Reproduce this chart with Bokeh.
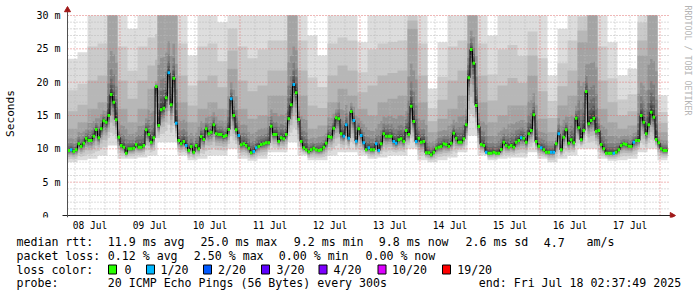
import numpy as np
from math import pi
from bokeh.plotting import figure
from bokeh.layouts import column
from bokeh.models import FixedTicker, Range1d
from bokeh.core.properties import value
from bokeh.embed import file_html
from bokeh.resources import INLINE

# ---------------- data ----------------
# hourly median RTT in ms, first point = Jul 8 03:00
median_ms = [
    9.75, 9.85, 9.6, 9.85, 10.75, 10.35, 10.85, 11.6, 11.25, 11.25,
    11.9, 12.9, 11.65, 13.0, 14.2, 14.0, 15.0, 18.15, 17.0, 14.35,
    11.75, 10.5, 10.25, 9.35, 10.0, 10.0, 10.1, 10.65, 10.25, 10.25,
    10.5, 12.85, 12.15, 11.0, 11.65, 19.35, 13.5, 15.85, 16.1, 17.65,
    21.4, 16.6, 20.6, 13.85, 11.25, 10.75, 11.1, 10.5, 9.75, 10.35,
    9.5, 10.5, 10.0, 11.85, 11.4, 13.0, 12.25, 12.5, 13.6, 12.25,
    12.15, 12.15, 11.85, 12.0, 12.9, 17.5, 15.0, 12.85, 12.0, 10.6,
    10.75, 10.5, 10.1, 9.4, 9.6, 10.15, 10.35, 10.65, 10.75, 10.9,
    10.9, 13.4, 12.15, 12.15, 11.1, 11.65, 11.5, 12.15, 14.5, 16.6,
    19.65, 18.4, 14.4, 11.1, 10.15, 9.85, 9.55, 9.85, 10.1, 9.85,
    9.75, 9.85, 10.25, 10.85, 11.85, 11.75, 13.1, 14.65, 14.5, 12.25,
    11.9, 13.6, 11.6, 15.6, 14.25, 11.15, 13.0, 12.0, 10.9, 9.85,
    10.15, 9.85, 9.85, 10.75, 9.75, 10.75, 12.25, 11.9, 11.9, 11.9,
    11.1, 10.85, 11.35, 11.5, 11.1, 12.75, 12.15, 16.4, 14.1, 11.1,
    11.6, 11.0, 11.1, 9.4, 9.4, 9.1, 9.5, 10.1, 10.25, 10.35,
    10.75, 10.65, 10.35, 10.85, 12.35, 11.6, 11.0, 11.0, 11.5, 13.6,
    20.65, 24.9, 22.85, 16.5, 13.35, 10.65, 10.5, 9.5, 9.35, 9.35,
    9.5, 9.35, 9.35, 9.9, 11.0, 10.5, 10.25, 10.5, 10.25, 11.0,
    11.25, 11.65, 11.6, 11.0, 12.25, 12.75, 15.1, 11.1, 10.4, 10.15,
    9.85, 9.5, 9.5, 9.5, 9.5, 10.75, 12.25, 9.85, 11.75, 12.85,
    10.85, 11.35, 10.9, 14.6, 13.15, 11.35, 12.75, 18.6, 13.75, 14.25,
    14.6, 12.65, 12.75, 10.65, 10.0, 9.35, 9.35, 9.35, 9.35, 9.5,
    9.85, 10.5, 10.75, 10.65, 10.4, 10.35, 11.0, 11.25, 11.25, 15.0,
    14.0, 12.25, 13.6, 15.5, 14.75, 11.4, 10.9, 10.0, 9.75, 9.75,
]
# hour indices whose median is drawn in the "1/20" loss colour
loss_1_of_20_hours = [1, 40, 43, 47, 65, 68, 74, 75, 90, 110, 111, 112, 114, 115,
                      117, 118, 120, 123, 124, 130, 131, 139, 167, 181, 189, 193,
                      194, 196, 218, 226]
# smoke extents per 4-hour block (ms): highest ping, top of mid-grey, lowest ping
smoke_hi_ms = [23.5, 24.5, 33, 33, 33, 33, 28, 33, 33, 33, 33, 33,
               24, 33, 33, 29, 33, 33, 31, 33, 33, 33, 33, 33,
               27, 24, 33, 33, 33, 26, 33, 33, 33, 33, 33, 33,
               19, 26, 33, 33, 33, 33, 27, 33, 33, 30, 33, 31,
               21, 28, 33, 33, 33, 33, 26, 21, 22, 33, 33, 18]
smoke_q_ms = [13, 14, 16, 17, 30, 16, 14, 16, 19, 30, 30, 17,
              14, 16, 17, 16, 22, 16, 14.5, 15, 18, 18, 30, 18,
              13, 13.5, 17, 19, 18, 16, 15, 17, 17.5, 18, 28, 17,
              12.5, 14.5, 16, 18, 30, 17, 14, 15, 16.5, 16.5, 21, 14.5,
              12.5, 16.5, 18, 26, 30, 16, 14, 13, 13.5, 24, 30, 12.5]
smoke_lo_ms = [8, 8.3, 8.5, 9, 10.5, 8.5, 8.5, 8.7, 9, 11, 11, 9,
               8.3, 8.5, 9, 9, 10, 8.5, 8.2, 8.5, 9.5, 9.5, 11, 9,
               8.3, 8.3, 9, 9.5, 9.5, 9, 8.5, 8.7, 9, 9, 10, 8.3,
               8, 8.3, 8.7, 9.5, 12, 9, 8.3, 8.5, 8.7, 8.7, 9.5, 8.5,
               8, 8.5, 9, 10, 10, 8.5, 8.2, 8.3, 8.5, 9.5, 10, 8.3]

day_labels = ["08 Jul", "09 Jul", "10 Jul", "11 Jul", "12 Jul",
              "13 Jul", "14 Jul", "15 Jul", "16 Jul", "17 Jul"]
y_ticks = [0, 5, 10, 15, 20, 25, 30]
y_tick_labels = ["0", "5 m", "10 m", "15 m", "20 m", "25 m", "30 m"]
loss_classes = ["0", "1/20", "2/20", "3/20", "4/20", "10/20", "19/20"]
loss_colors = ["#26ff00", "#00b8ff", "#0059ff", "#5e00ff", "#7e00ff", "#dd00ff", "#ff0000"]

stats_rtt = ["11.9 ms avg", "25.0 ms max", "9.2 ms min", "9.8 ms now", "2.6 ms sd", "4.7", "am/s"]
stats_loss = ["0.12 % avg", "2.50 % max", "0.00 % min", "0.00 % now"]
probe_text = "20 ICMP Echo Pings (56 Bytes) every 300s"
end_text = "end: Fri Jul 18 02:37:49 2025"

# ---------------- geometry (pixels) ----------------
START_H = 3.0          # hours after Jul 8 00:00 at the left edge of the graph
n = len(median_ms)
W, H = 697, 297
GL, GR, GT, GB = 67, 667, 15, 215      # graph area
FB = 217                               # bottom of the bokeh frame (x labels below it)
MAIN_H = 234
YMAX = 30.0
PX_H = (GR - GL) / n                   # pixels per hour
PX_MS = (GB - GT) / YMAX               # pixels per ms


def dx(px):
    return START_H + (px - GL) / PX_H


def dy(py):
    return (GB - py) / PX_MS


FONT = "DejaVu Sans Mono"

p = figure(width=W, height=MAIN_H, x_range=Range1d(dx(0), dx(W)),
           y_range=Range1d(dy(FB), dy(0)), output_backend="svg", toolbar_location=None,
           min_border_left=0, min_border_right=0, min_border_top=0,
           min_border_bottom=MAIN_H - FB, y_axis_location=None)
p.outline_line_color = None
p.background_fill_color = "white"
p.border_fill_color = "white"
p.xgrid.visible = False
p.ygrid.visible = False

x = START_H + np.arange(n)
x_edges = np.append(x, x[-1] + 1)
med = np.array(median_ms, dtype=float)

hi = np.repeat(np.array(smoke_hi_ms, dtype=float), 4)[:n]
q = np.repeat(np.array(smoke_q_ms, dtype=float), 4)[:n]
lo = np.repeat(np.array(smoke_lo_ms, dtype=float), 4)[:n]
q = np.maximum(q, med + 0.8)
hi = np.maximum(hi, q)
lo = np.minimum(lo, med - 0.5)

below_frac = [1.0, .75, .55, .40, .30, .22, .15, .10, .06, .03]
above_frac = [.03, .07, .12, .20, .32, .55]
lower = [med - f * (med - lo) for f in below_frac]                      # ping 1..10
upper = ([med + f * (q - med) for f in above_frac] +
         [q, q + 0.25 * (hi - q), q + 0.55 * (hi - q), hi])            # ping 11..20

for k in range(10):          # k=0 outermost band (lightest)
    g = int(190 / 10 * (10 - (k + 1))) + 50
    col = "#%02x%02x%02x" % (g, g, g)
    y1 = np.minimum(lower[k], YMAX)
    y2 = np.minimum(upper[9 - k], YMAX)
    p.varea_step(x=x_edges, y1=np.append(y1, y1[-1]), y2=np.append(y2, y2[-1]),
                 step_mode="after", fill_color=col)

# grid (dotted, drawn over the smoke, confined to the graph area)
hours_grid = [h for h in range(6, 246, 6) if START_H < h < START_H + n]
minor_v = [h for h in hours_grid if h % 24]
major_v = [h for h in hours_grid if h % 24 == 0]
minor_h = [v for v in range(1, 30) if v % 5]
major_h = [v for v in y_ticks if v > 0]
x_end = START_H + n + 0.4
p.segment(x0=minor_v, y0=0, x1=minor_v, y1=YMAX, line_color="#b8b8b8",
          line_dash="1 2", line_width=1)
p.segment(x0=START_H, y0=minor_h, x1=x_end, y1=minor_h, line_color="#b8b8b8",
          line_dash="1 2", line_width=1)
p.segment(x0=major_v, y0=0, x1=major_v, y1=YMAX, line_color="#e07070",
          line_dash="1 2", line_width=1)
p.segment(x0=START_H, y0=major_h, x1=x_end, y1=major_h, line_color="#e07070",
          line_dash="1 2", line_width=1)

# median: thin black step line + loss-coloured marks
p.step(x_edges, np.append(med, med[-1]), mode="after", line_color="black", line_width=1)
mcol = [loss_colors[1] if i in loss_1_of_20_hours else loss_colors[0] for i in range(n)]
p.segment(x0=x, y0=med, x1=x + 1, y1=med, line_color=mcol, line_width=3, line_cap="butt")

# axis lines with arrow heads
head_c = "#a01818"
p.segment(x0=dx(62), y0=0, x1=dx(670), y1=0, line_color="#202020", line_width=1)
p.segment(x0=START_H, y0=dy(217), x1=START_H, y1=dy(11), line_color="#505050", line_width=1)
p.scatter(x=[dx(671.5)], y=[0], marker="triangle", angle=-pi / 2, size=6,
          fill_color=head_c, line_color=head_c)
p.scatter(x=[START_H], y=[dy(9.5)], marker="triangle", size=6,
          fill_color=head_c, line_color=head_c)

# y tick labels (unit-less "0" sits two columns further left), axis title, watermark
lab_x = [dx(60) if " " in s else dx(48) for s in y_tick_labels]
p.text(x=lab_x, y=y_ticks, text=y_tick_labels, text_font=value(FONT),
       text_font_size=value("10px"), text_color="black", text_align="right",
       text_baseline="middle")
p.text(x=[dx(10)], y=[dy(113)], text=["Seconds"], text_font=value(FONT),
       text_font_size=value("11.1px"), text_color="black", angle=pi / 2,
       text_align="center", text_baseline="middle")
p.text(x=[dx(687)], y=[dy(60)], text=["RRDTOOL / TOBI OETIKER"], text_font=value(FONT),
       text_font_size=value("8.3px"), text_color="#b4b4b4", angle=-pi / 2,
       text_align="center", text_baseline="middle")

# x axis (day labels at noon)
p.xaxis.ticker = FixedTicker(ticks=[12 + 24 * k for k in range(len(day_labels))])
p.xaxis.major_label_overrides = {12 + 24 * k: lab for k, lab in enumerate(day_labels)}
p.xaxis.major_tick_out = 0
p.xaxis.major_tick_in = 0
p.xaxis.major_tick_line_color = None
p.xaxis.minor_tick_line_color = None
p.xaxis.axis_line_color = None
p.xaxis.major_label_standoff = 2
p.xaxis.major_label_text_font = FONT
p.xaxis.major_label_text_font_size = "9.6px"
p.xaxis.major_label_text_color = "black"

# ---------------- legend block below ----------------
LEG_H = H - MAIN_H
lg = figure(width=W, height=LEG_H, x_range=Range1d(0, W), y_range=Range1d(LEG_H, 0),
            output_backend="svg", toolbar_location=None, min_border=0,
            x_axis_location=None, y_axis_location=None)
lg.outline_line_color = None
lg.grid.visible = False
lg.background_fill_color = "white"
lg.border_fill_color = "white"

ROW = [241.7 - MAIN_H, 255.3 - MAIN_H, 269.0 - MAIN_H, 282.6 - MAIN_H]
tx, ty, tt = [], [], []


def put(px, row, s):
    tx.append(px)
    ty.append(ROW[row])
    tt.append(s)


put(16, 0, "median rtt:")
for s, px in zip(stats_rtt, [107.3, 200, 293.3, 378.3, 465, 543.3, 586]):
    put(px, 0, s)
put(16, 1, "packet loss:")
for s, px in zip(stats_loss, [107.3, 193.3, 278.3, 365]):
    put(px, 1, s)
put(16, 2, "loss color:")
box_x = [108, 146, 203, 261, 318.5, 377.5, 442]
text_x = [124, 160, 217.5, 276, 333, 391.5, 456.7]
for lab, txx in zip(loss_classes, text_x):
    put(txx, 2, lab)
put(16, 3, "probe:")
put(107.3, 3, probe_text)
put(478.3, 3, end_text)

lg.text(x=tx, y=ty, text=tt, text_font=value(FONT), text_font_size=value("11.6px"),
        text_color="black", text_baseline="middle", text_align="left")
bx = np.array(box_x)
lg.quad(left=bx, right=bx + 8, top=ROW[2] - 4.5, bottom=ROW[2] + 4.5,
        fill_color=loss_colors, line_color="black", line_width=1)

layout = column(p, lg, spacing=0)
open("out.html", "w").write(file_html(layout, INLINE))
